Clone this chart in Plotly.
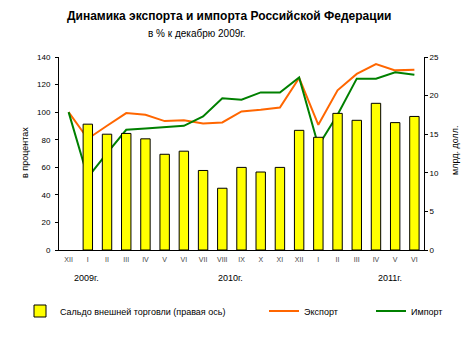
import plotly.graph_objects as go

months = ["XII", "I", "II", "III", "IV", "V", "VI", "VII", "VIII", "IX", "X", "XI", "XII",
          "I", "II", "III", "IV", "V", "VI"]
balance = [None, 16.3, 15.0, 15.1, 14.4, 12.4, 12.8, 10.3, 8.0, 10.7, 10.1, 10.7, 15.5,
           14.6, 17.7, 16.8, 19.0, 16.5, 17.3]
export = [100, 80.7, 90.1, 99.3, 98.1, 93.5, 94.2, 91.8, 92.5, 100.5, 101.7, 103.4, 124.8,
          90.8, 115.8, 127.7, 134.9, 130.3, 130.8]
imports = [100, 52.6, 70.3, 87.2, 88.2, 88.9, 90.1, 96.9, 110.0, 109.0, 114.3, 114.3, 125.2,
           75.6, 98.1, 124.3, 124.3, 128.9, 127.2]
years = ["2009г.", "2010г.", "2011г."]
year_pos = [0.036, 0.471, 0.945]

x = list(range(len(months)))
FONT = "Liberation Sans, Arial, sans-serif"

fig = go.Figure()
fig.add_trace(go.Bar(
    x=x, y=balance, yaxis="y2", width=0.49,
    marker=dict(color="#FFFF00", line=dict(color="#000000", width=1)),
    name="Сальдо внешней торговли (правая ось)", legend="legend",
))
fig.add_trace(go.Scatter(
    x=x, y=export, mode="lines", line=dict(color="#FF6600", width=2),
    name="Экспорт", legend="legend2",
))
fig.add_trace(go.Scatter(
    x=x, y=imports, mode="lines", line=dict(color="#008000", width=2),
    name="Импорт", legend="legend3",
))

L, R, T, B = 59, 424, 57, 250

def px(xp, yp):
    return (xp - L) / (R - L), (B - yp) / (B - T)

annotations = []
for text, xp, yp, size, angle in [
    ("<b>Динамика экспорта и импорта Российской Федерации</b>", 229, 16, 12, 0),
    ("в % к декабрю 2009г.", 197, 33, 10, 0),
    ("в процентах", 25, 153, 9, -90),
    ("млрд. долл.", 455, 150, 9, -90),
]:
    ax, ay = px(xp, yp)
    annotations.append(dict(text=text, x=ax, y=ay, xref="paper", yref="paper",
                            xanchor="center", yanchor="middle", textangle=angle,
                            showarrow=False, font=dict(size=size, color="#000")))
for yr, xp in zip(years, year_pos):
    annotations.append(dict(text=yr, x=xp, y=(B - 285) / (B - T), xref="paper", yref="paper",
                            showarrow=False, font=dict(size=9, color="#000")))

def leg(xpx):
    return dict(x=(xpx - L) / (R - L), y=(B - 311) / (B - T), xref="paper", yref="paper",
                xanchor="left", yanchor="middle", orientation="h",
                font=dict(size=9, family=FONT, color="#000"), bgcolor="rgba(0,0,0,0)",
                itemwidth=30, tracegroupgap=0)

fig.update_layout(
    width=470, height=338,
    margin=dict(l=L, r=470 - R, t=T, b=338 - B, pad=0),
    paper_bgcolor="white", plot_bgcolor="white",
    font=dict(family=FONT, size=8, color="#000"),
    showlegend=True,
    legend=leg(20), legend2=leg(264), legend3=leg(371),
    xaxis=dict(
        tickmode="array", tickvals=x, ticktext=months, range=[-0.5, len(months) - 0.5],
        showline=True, linecolor="#000", linewidth=1, ticks="", showgrid=False,
        tickfont=dict(size=7, color="#444"), zeroline=False, ticklabelstandoff=3,
    ),
    yaxis=dict(
        range=[0, 140], dtick=20, showline=True, linecolor="#000", linewidth=1,
        ticks="outside", ticklen=3, tickcolor="#000", showgrid=False, zeroline=False,
        tickfont=dict(size=8), ticklabelstandoff=3,
    ),
    yaxis2=dict(
        range=[0, 25], dtick=5, overlaying="y", side="right", showline=True,
        linecolor="#000", linewidth=1, ticks="outside", ticklen=3, tickcolor="#000",
        showgrid=False, zeroline=False,
        tickfont=dict(size=8),
    ),
    annotations=annotations,
    bargap=0.5,
)

fig.write_html("out.html")
